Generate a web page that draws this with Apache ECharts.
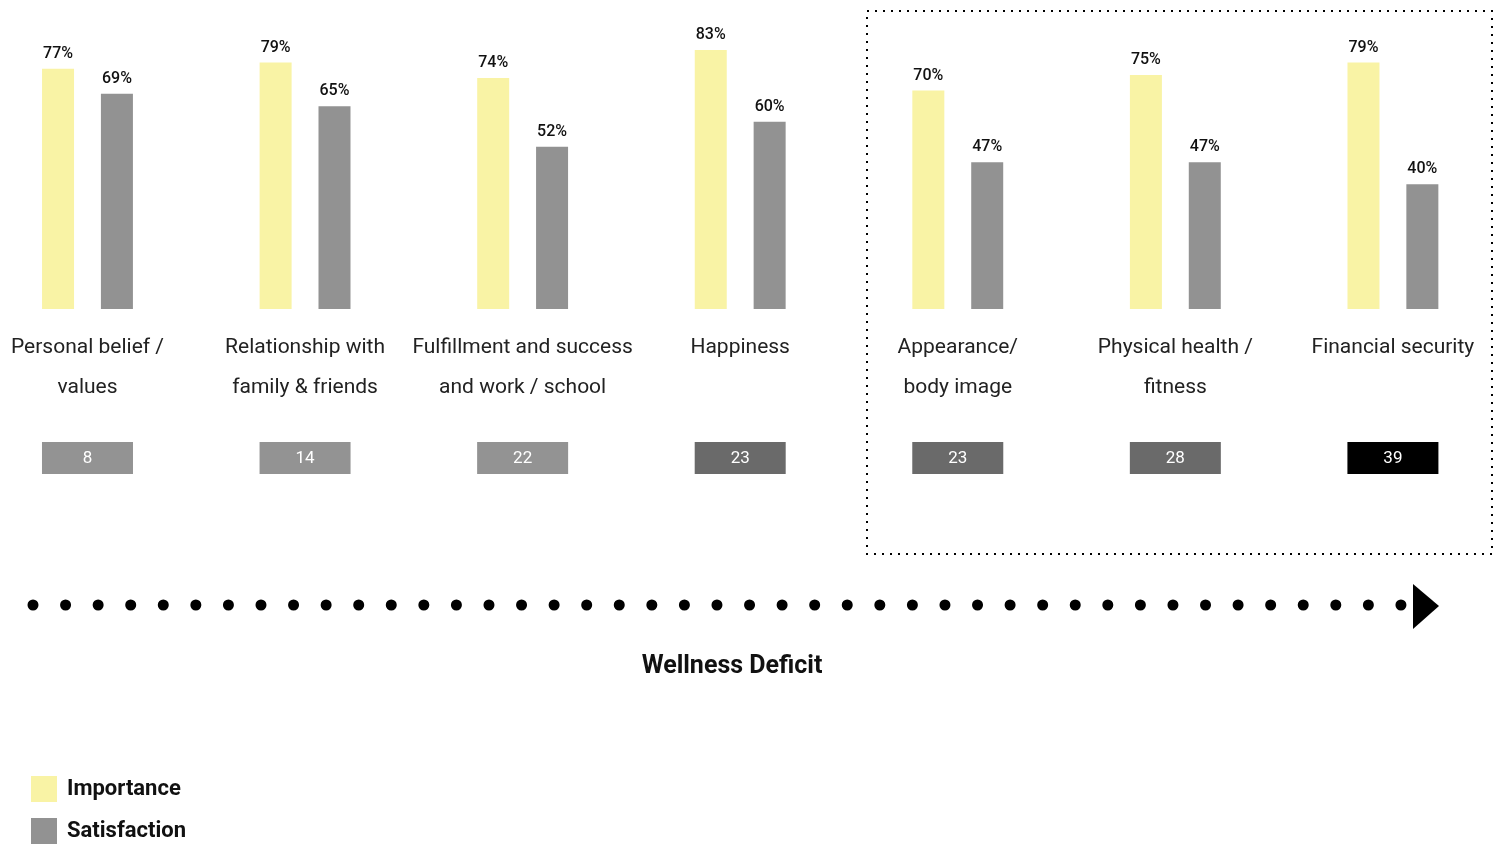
<!DOCTYPE html>
<html>
<head>
<meta charset="utf-8" />
<script src="https://cdn.jsdelivr.net/npm/echarts@6/dist/echarts.min.js"></script>
<title>wellness_deficit</title>
<style>
  html, body { margin: 0; padding: 0; background: #fff; }
</style>
</head>
<body>
<div id="main" style="width:1496px; height:845px;"></div>
<script type="text/javascript">
    // values
    let categories = ['Personal belief /\nvalues', 'Relationship with\nfamily & friends',
        'Fulfillment and success\nand work / school', 'Happiness', 'Appearance/\nbody image',
        'Physical health /\nfitness', 'Financial security'];
    let importance = [77, 79, 74, 83, 70, 75, 79];
    let satisfaction = [69, 65, 52, 60, 47, 47, 40];
    let deficit = [8, 14, 22, 23, 23, 28, 39];

    let myChart = echarts.init(document.getElementById('main'));
    let font = 'Roboto';

    function deficitColor(v) {
        if (v >= 39) return '#000000';
        if (v >= 23) return '#6a6a6a';
        return '#939393';
    }

    let legendText = { fontSize: 22, fontWeight: 'bold', fontFamily: font, color: '#111', padding: [0, 0, 0, 5] };

    option = {
        animation: false,
        grid: { left: -21.3, width: 1523, top: -3, height: 312, outerBoundsMode: 'none', containLabel: false },
        legend: [{
            data: ['Importance'],
            left: 31, top: 776, padding: 0,
            itemWidth: 26, itemHeight: 26,
            icon: 'rect',
            textStyle: legendText
        }, {
            data: ['Satisfaction'],
            left: 31, top: 818, padding: 0,
            itemWidth: 26, itemHeight: 26,
            icon: 'rect',
            textStyle: legendText
        }],
        xAxis: {
            type: 'category',
            data: categories,
            axisLine: { show: false },
            axisTick: { show: false },
            axisLabel: {
                interval: 0, margin: 19,
                fontSize: 21, lineHeight: 40, fontFamily: font, color: '#222'
            }
        },
        yAxis: {
            type: 'value', min: 0, max: 100, show: false,
            splitLine: { show: false }
        },
        series: [{
            name: 'Importance',
            type: 'bar',
            data: importance,
            barWidth: 32,
            barGap: '84%',
            itemStyle: { color: '#f9f3a5' },
            label: {
                show: true, position: 'top', distance: 7,
                formatter: '{c}%', fontSize: 16, fontWeight: 500, fontFamily: font, color: '#111'
            }
        }, {
            name: 'Satisfaction',
            type: 'bar',
            data: satisfaction,
            barWidth: 32,
            itemStyle: { color: '#929292' },
            label: {
                show: true, position: 'top', distance: 7,
                formatter: '{c}%', fontSize: 16, fontWeight: 500, fontFamily: font, color: '#111'
            }
        }, {
            name: 'Deficit',
            type: 'custom',
            clip: false,
            data: deficit.map(function (v, i) { return [i, v]; }),
            encode: { x: 0, y: 1 },
            renderItem: function (params, api) {
                let p = api.coord([api.value(0), 0]);
                let v = api.value(1);
                return {
                    type: 'group',
                    children: [{
                        type: 'rect',
                        shape: { x: p[0] - 45.5, y: p[1] + 133, width: 91, height: 32 },
                        style: { fill: deficitColor(v) }
                    }, {
                        type: 'text',
                        style: {
                            text: String(v), x: p[0], y: p[1] + 150,
                            align: 'center', verticalAlign: 'middle',
                            fill: '#fff', fontSize: 17, fontFamily: font
                        }
                    }]
                };
            }
        }],
        graphic: [{
            type: 'rect',
            shape: { x: 867, y: 11, width: 625, height: 543 },
            style: { fill: 'none', stroke: '#000', lineWidth: 2, lineDash: [2, 6] }
        }, {
            type: 'line',
            shape: { x1: 33, y1: 605, x2: 1402, y2: 605 },
            style: { stroke: '#000', lineWidth: 11, lineDash: [0, 32.57], lineCap: 'round' }
        }, {
            type: 'polygon',
            shape: { points: [[1413, 584], [1439, 606], [1413, 629]] },
            style: { fill: '#000' }
        }, {
            type: 'text',
            x: 732, y: 667,
            style: {
                text: 'Wellness Deficit', align: 'center', verticalAlign: 'middle',
                fontSize: 25, fontWeight: 'bold', fontFamily: font, fill: '#111'
            }
        }]
    };
    myChart.setOption(option);
</script>
</body>
</html>
